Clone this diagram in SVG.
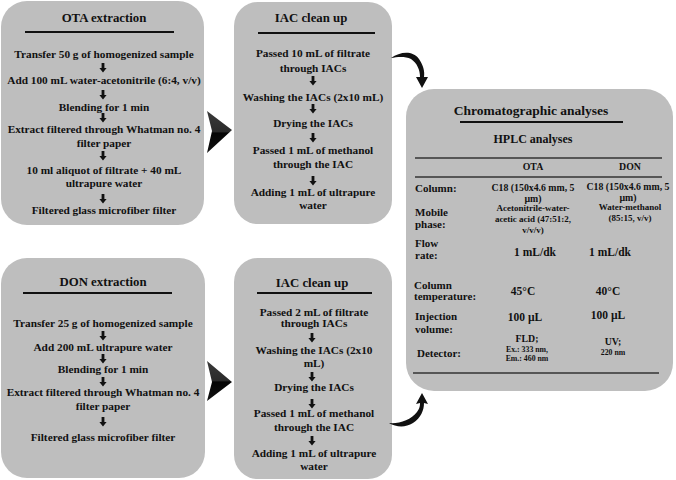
<svg xmlns="http://www.w3.org/2000/svg" width="676" height="480" viewBox="0 0 676 480">
<defs>
<style>
.box{fill:#bebebe;}
.t{font-family:"Liberation Serif","Times New Roman",serif;font-weight:bold;fill:#111;text-anchor:middle;}
.ttl{font-size:12.8px;}
.st{font-size:11.3px;}
.tb{font-size:9.8px;}
.sm{font-size:9px;}
.xs{font-size:7.8px;}
.lbl{font-family:"Liberation Serif","Times New Roman",serif;font-weight:bold;fill:#111;font-size:11px;text-anchor:start;}
.rule{stroke:#111;stroke-width:2.2;}
.rule2{stroke:#333;stroke-width:1.3;}
.conn{fill:#111;}
</style>
<path id="da" d="M-1.4,-5 H1.4 V0 H3.6 L0,4.5 L-3.6,0 H-1.4 Z" fill="#111"/>
<linearGradient id="chev" x1="0" y1="0" x2="0" y2="1">
<stop offset="0" stop-color="#3a3a3a"/>
<stop offset="0.5" stop-color="#2a2a2a"/>
<stop offset="0.52" stop-color="#050505"/>
<stop offset="1" stop-color="#111"/>
</linearGradient>
</defs>
<rect width="676" height="480" fill="#ffffff"/>

<g id="ota-extraction">
<rect class="box" x="1" y="1" width="203" height="224" rx="26"/>
<text class="t ttl" x="104" y="22">OTA extraction</text>
<line class="rule" x1="25" y1="32" x2="174" y2="32"/>
<text class="t st" x="104" y="58">Transfer 50 g of homogenized sample</text>
<use href="#da" x="103" y="68"/>
<text class="t st" x="104" y="84">Add 100 mL water-acetonitrile (6:4, v/v)</text>
<use href="#da" x="103" y="95"/>
<text class="t st" x="104" y="111">Blending for 1 min</text>
<use href="#da" x="103" y="118"/>
<text class="t st" x="104" y="133">Extract filtered through Whatman no. 4</text>
<text class="t st" x="104" y="147">filter paper</text>
<use href="#da" x="103" y="156"/>
<text class="t st" x="104" y="174">10 ml aliquot of filtrate + 40 mL</text>
<text class="t st" x="104" y="187">ultrapure water</text>
<use href="#da" x="103" y="199"/>
<text class="t st" x="104" y="214">Filtered glass microfiber filter</text>
</g>

<g id="iac-cleanup-ota">
<rect class="box" x="234" y="2" width="158" height="222" rx="24"/>
<text class="t ttl" x="311" y="22">IAC clean up</text>
<line class="rule" x1="258" y1="33" x2="375" y2="33"/>
<text class="t st" x="313" y="57">Passed 10 mL of filtrate</text>
<text class="t st" x="313" y="72">through IACs</text>
<use href="#da" x="313" y="81"/>
<text class="t st" x="313" y="101">Washing the IACs (2x10 mL)</text>
<use href="#da" x="313" y="109"/>
<text class="t st" x="313" y="127">Drying the IACs</text>
<use href="#da" x="313" y="138"/>
<text class="t st" x="313" y="154">Passed 1 mL of methanol</text>
<text class="t st" x="313" y="168">through the IAC</text>
<use href="#da" x="313" y="181"/>
<text class="t st" x="313" y="196">Adding 1 mL of ultrapure</text>
<text class="t st" x="313" y="209">water</text>
</g>

<g id="don-extraction">
<rect class="box" x="1" y="258" width="204" height="220" rx="26"/>
<text class="t ttl" x="103" y="286">DON extraction</text>
<line class="rule" x1="23" y1="293" x2="172" y2="293"/>
<text class="t st" x="103" y="327">Transfer 25 g of homogenized sample</text>
<use href="#da" x="103" y="336"/>
<text class="t st" x="103" y="351">Add 200 mL ultrapure water</text>
<use href="#da" x="103" y="359"/>
<text class="t st" x="103" y="373">Blending for 1 min</text>
<use href="#da" x="103" y="382"/>
<text class="t st" x="103" y="396">Extract filtered through Whatman no. 4</text>
<text class="t st" x="103" y="410">filter paper</text>
<use href="#da" x="103" y="422"/>
<text class="t st" x="103" y="441">Filtered glass microfiber filter</text>
</g>

<g id="iac-cleanup-don">
<rect class="box" x="234" y="258" width="158" height="221" rx="24"/>
<text class="t ttl" x="312" y="287">IAC clean up</text>
<line class="rule" x1="257" y1="293" x2="372" y2="293"/>
<text class="t st" x="314" y="316">Passed 2 mL of filtrate</text>
<text class="t st" x="314" y="327">through IACs</text>
<use href="#da" x="312" y="338"/>
<text class="t st" x="314" y="354">Washing the IACs (2x10</text>
<text class="t st" x="314" y="367">mL)</text>
<use href="#da" x="312" y="377"/>
<text class="t st" x="314" y="391">Drying the IACs</text>
<use href="#da" x="312" y="404"/>
<text class="t st" x="314" y="417">Passed 1 mL of methanol</text>
<text class="t st" x="314" y="431">through the IAC</text>
<use href="#da" x="312" y="441"/>
<text class="t st" x="314" y="457">Adding 1 mL of ultrapure</text>
<text class="t st" x="314" y="470">water</text>
</g>

<g id="chromatographic-analyses">
<rect class="box" x="406" y="89" width="267" height="302" rx="28"/>
<text class="t" x="531" y="115" font-size="13.5">Chromatographic analyses</text>
<line class="rule" x1="460" y1="122" x2="623" y2="122"/>
<text class="t" x="533" y="143" font-size="12">HPLC analyses</text>
<line class="rule2" x1="415" y1="158" x2="662" y2="158"/>
<text class="t tb" x="533" y="170">OTA</text>
<text class="t tb" x="630" y="170">DON</text>
<line class="rule2" x1="415" y1="177" x2="662" y2="177"/>
<text class="lbl" x="415" y="192">Column:</text>
<text class="t tb" x="533" y="191">C18 (150x4.6 mm, 5</text>
<text class="t tb" x="533" y="202">µm)</text>
<text class="t tb" x="628" y="190">C18 (150x4.6 mm, 5</text>
<text class="t tb" x="628" y="201">µm)</text>
<text class="lbl" x="415" y="216">Mobile</text>
<text class="lbl" x="415" y="228">phase:</text>
<text class="t sm" x="533" y="211">Acetonitrile-water-</text>
<text class="t sm" x="533" y="222">acetic acid (47:51:2,</text>
<text class="t sm" x="533" y="233">v/v/v)</text>
<text class="t sm" x="630" y="210">Water-methanol</text>
<text class="t sm" x="630" y="221">(85:15, v/v)</text>
<text class="lbl" x="415" y="247">Flow</text>
<text class="lbl" x="415" y="259">rate:</text>
<text class="t" x="535" y="256" font-size="11.5">1 mL/dk</text>
<text class="t" x="610" y="256" font-size="11.5">1 mL/dk</text>
<text class="lbl" x="414" y="289">Column</text>
<text class="lbl" x="414" y="300">temperature:</text>
<text class="t" x="523" y="295" font-size="11.5">45°C</text>
<text class="t" x="608" y="295" font-size="11.5">40°C</text>
<text class="lbl" x="415" y="320">Injection</text>
<text class="lbl" x="415" y="333">volume:</text>
<text class="t" x="525" y="321" font-size="11.5">100 µL</text>
<text class="t" x="608" y="319" font-size="11.5">100 µL</text>
<text class="lbl" x="417" y="357">Detector:</text>
<text class="t tb" x="527" y="342">FLD;</text>
<text class="t xs" x="527" y="352">Ex.: 333 nm,</text>
<text class="t xs" x="527" y="361">Em.: 460 nm</text>
<text class="t tb" x="613" y="345">UV;</text>
<text class="t xs" x="613" y="355">220 nm</text>
<line class="rule2" x1="413" y1="373" x2="659" y2="373"/>
</g>

<g id="connectors">
<path d="M207,111 L232,130 L207,153 L212,131 Z" fill="url(#chev)"/>
<path d="M207,361 L232,382 L207,401 L212,382 Z" fill="url(#chev)"/>
<path class="conn" d="M391,58 C400,52 412,50 419,59 C423,65 425,71 424,77 L428,77 L422,88 L416,77 L420,77 C420,70 417,63 411,59 C405,56 397,57 391,58 Z"/>
<path class="conn" d="M389,423 C399,424 411,420 417,412 C420,408 420,405 420,403 L416,404 L422,393 L428,404 L424,403 C424,410 421,418 413,423 C405,428 396,427 389,423 Z"/>
</g>
</svg>
